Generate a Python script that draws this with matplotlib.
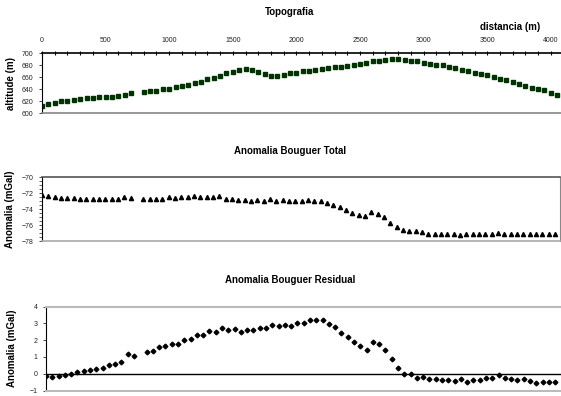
import numpy as np
import matplotlib
matplotlib.use("Agg")
import matplotlib.pyplot as plt
from matplotlib.ticker import MultipleLocator

plt.rcParams['font.family'] = ['Liberation Sans', 'DejaVu Sans']

# distance along the profile (m), station at 750 m missing
distancia = [0, 50, 100, 150, 200, 250, 300, 350, 400, 450, 500, 550, 600, 650, 700,
             800, 850, 900, 950, 1000, 1050, 1100, 1150, 1200, 1250, 1300, 1350, 1400,
             1450, 1500, 1550, 1600, 1650, 1700, 1750, 1800, 1850, 1900, 1950, 2000,
             2050, 2100, 2150, 2200, 2250, 2300, 2350, 2400, 2450, 2500, 2550, 2600,
             2650, 2700, 2750, 2800, 2850, 2900, 2950, 3000, 3050, 3100, 3150, 3200,
             3250, 3300, 3350, 3400, 3450, 3500, 3550, 3600, 3650, 3700, 3750, 3800,
             3850, 3900, 3950, 4000, 4050]

altitude = [611.7, 615, 617.8, 621, 621, 622.8, 624, 625, 625, 626.5, 626.7, 627, 629, 631, 634,
            635.5, 637, 638, 640, 641, 644.5, 645.5, 647, 650, 653, 657, 659, 663,
            667, 669.5, 672, 674, 672, 669, 665, 663, 662.5, 664, 666.7, 668,
            670, 671, 672, 674, 675, 676.7, 678, 679.4, 681, 683, 684.4, 687,
            688, 689.4, 691, 691, 689.4, 688, 687, 684, 683, 681, 680, 678,
            675, 672, 670, 668, 666, 664, 661, 658, 655, 653, 649, 646,
            643, 641, 639, 634, 631]

bouguer_total = [-72.2, -72.4, -72.5, -72.6, -72.6, -72.6, -72.7, -72.8, -72.8, -72.8, -72.8, -72.8, -72.8, -72.5, -72.6,
                 -72.7, -72.8, -72.7, -72.7, -72.5, -72.6, -72.5, -72.5, -72.4, -72.5, -72.5, -72.5, -72.4,
                 -72.7, -72.7, -72.9, -72.9, -73.0, -72.9, -73.0, -72.8, -73.0, -72.9, -73.0, -73.0,
                 -73.0, -72.9, -73.0, -73.0, -73.25, -73.5, -73.8, -74.1, -74.5, -74.7, -74.9, -74.4,
                 -74.6, -75.0, -75.7, -76.3, -76.65, -76.75, -76.8, -76.85, -77.1, -77.1, -77.1, -77.1,
                 -77.1, -77.2, -77.1, -77.1, -77.1, -77.1, -77.1, -77.0, -77.1, -77.1, -77.1, -77.1,
                 -77.1, -77.1, -77.1, -77.1, -77.1]

bouguer_residual = [-0.13, -0.21, -0.13, -0.1, 0.0, 0.1, 0.15, 0.21, 0.29, 0.35, 0.5, 0.6, 0.69, 1.15, 1.06,
                    1.31, 1.37, 1.58, 1.65, 1.77, 1.79, 2.04, 2.1, 2.33, 2.33, 2.54, 2.52, 2.73,
                    2.6, 2.67, 2.48, 2.63, 2.6, 2.73, 2.73, 2.92, 2.83, 2.92, 2.87, 3.04,
                    3.04, 3.19, 3.23, 3.19, 2.98, 2.81, 2.46, 2.21, 1.87, 1.65, 1.44, 1.92,
                    1.75, 1.44, 0.85, 0.33, -0.04, -0.04, -0.25, -0.17, -0.33, -0.33, -0.38, -0.38,
                    -0.44, -0.33, -0.48, -0.38, -0.38, -0.25, -0.25, -0.1, -0.25, -0.33, -0.38, -0.33,
                    -0.44, -0.54, -0.48, -0.48, -0.48]

W, H = 561, 396
fig = plt.figure(figsize=(W / 100, H / 100), dpi=100)

def box(l, t, r, b):
    return [l / W, 1 - b / H, (r - l) / W, (b - t) / H]

tick_kw = dict(labelsize=5, colors='#222222', length=2.5, width=0.6)
label_kw = dict(fontsize=7, fontweight='bold')

# --- topography ---
ax1 = fig.add_axes(box(42, 53.3, 561, 113.3))
ax1.plot(distancia, altitude, ls='none', marker='s', ms=2.9, mfc='#003300', mec='#003300')
ax1.set_xlim(0, 4080)
ax1.set_ylim(600, 700)
ax1.xaxis.tick_top()
ax1.xaxis.set_major_locator(MultipleLocator(500))
ax1.xaxis.set_minor_locator(MultipleLocator(100))
ax1.tick_params(axis='x', which='both', direction='inout', length=3, width=0.8,
                labelsize=5, labelcolor='#222222', pad=5)
ax1.yaxis.set_major_locator(MultipleLocator(20))
ax1.tick_params(axis='y', **tick_kw)
ax1.spines['top'].set_linewidth(1.2)
ax1.spines['bottom'].set_color('#888888')
ax1.spines['bottom'].set_linewidth(1.2)
ax1.spines['right'].set_visible(False)
ax1.spines['left'].set_linewidth(0.8)
ax1.set_ylabel('altitude (m)', labelpad=4, **label_kw)
fig.text(290 / W, 1 - 12 / H, 'Topografia', ha='center', va='center', **label_kw)
fig.text(510 / W, 1 - 27 / H, 'distancia (m)', ha='center', va='center', **label_kw)

# --- total Bouguer anomaly ---
ax2 = fig.add_axes(box(42, 177, 560, 241))
ax2.plot(distancia, bouguer_total, ls='none', marker='^', ms=3, mfc='black', mec='black')
ax2.set_xlim(0, 4090)
ax2.set_ylim(-78, -70)
ax2.set_xticks([])
ax2.yaxis.set_major_locator(MultipleLocator(2))
ax2.yaxis.set_minor_locator(MultipleLocator(0.5))
ax2.tick_params(axis='y', **tick_kw)
ax2.tick_params(axis='y', which='minor', length=2, width=0.5, colors='#222222')
ax2.spines['top'].set_color('#555555')
ax2.spines['top'].set_linewidth(1.2)
ax2.spines['bottom'].set_color('#aaaaaa')
ax2.spines['bottom'].set_linewidth(1.2)
ax2.spines['right'].set_color('#888888')
ax2.spines['left'].set_linewidth(0.8)
ax2.set_ylabel('Anomalia (mGal)', labelpad=5, **label_kw)
fig.text(290 / W, 1 - 151 / H, 'Anomalia Bouguer Total', ha='center', va='center', **label_kw)

# --- residual Bouguer anomaly ---
ax3 = fig.add_axes(box(46, 306.7, 561, 390.5))
ax3.plot(distancia, bouguer_residual, ls='none', marker='D', ms=2.4, mfc='black', mec='black')
ax3.axhline(0, color='black', lw=1)
ax3.set_xlim(0, 4097)
ax3.set_ylim(-1, 4)
ax3.set_xticks([])
ax3.yaxis.set_major_locator(MultipleLocator(1))
ax3.tick_params(axis='y', **tick_kw)
for side in ('top', 'bottom'):
    ax3.spines[side].set_color('#bbbbbb')
    ax3.spines[side].set_linewidth(1.5)
ax3.spines['right'].set_visible(False)
ax3.spines['left'].set_linewidth(0.8)
ax3.set_ylabel('Anomalia (mGal)', labelpad=9, **label_kw)
fig.text(290 / W, 1 - 280 / H, 'Anomalia Bouguer Residual', ha='center', va='center', **label_kw)

fig.savefig('out.png', dpi=100)
